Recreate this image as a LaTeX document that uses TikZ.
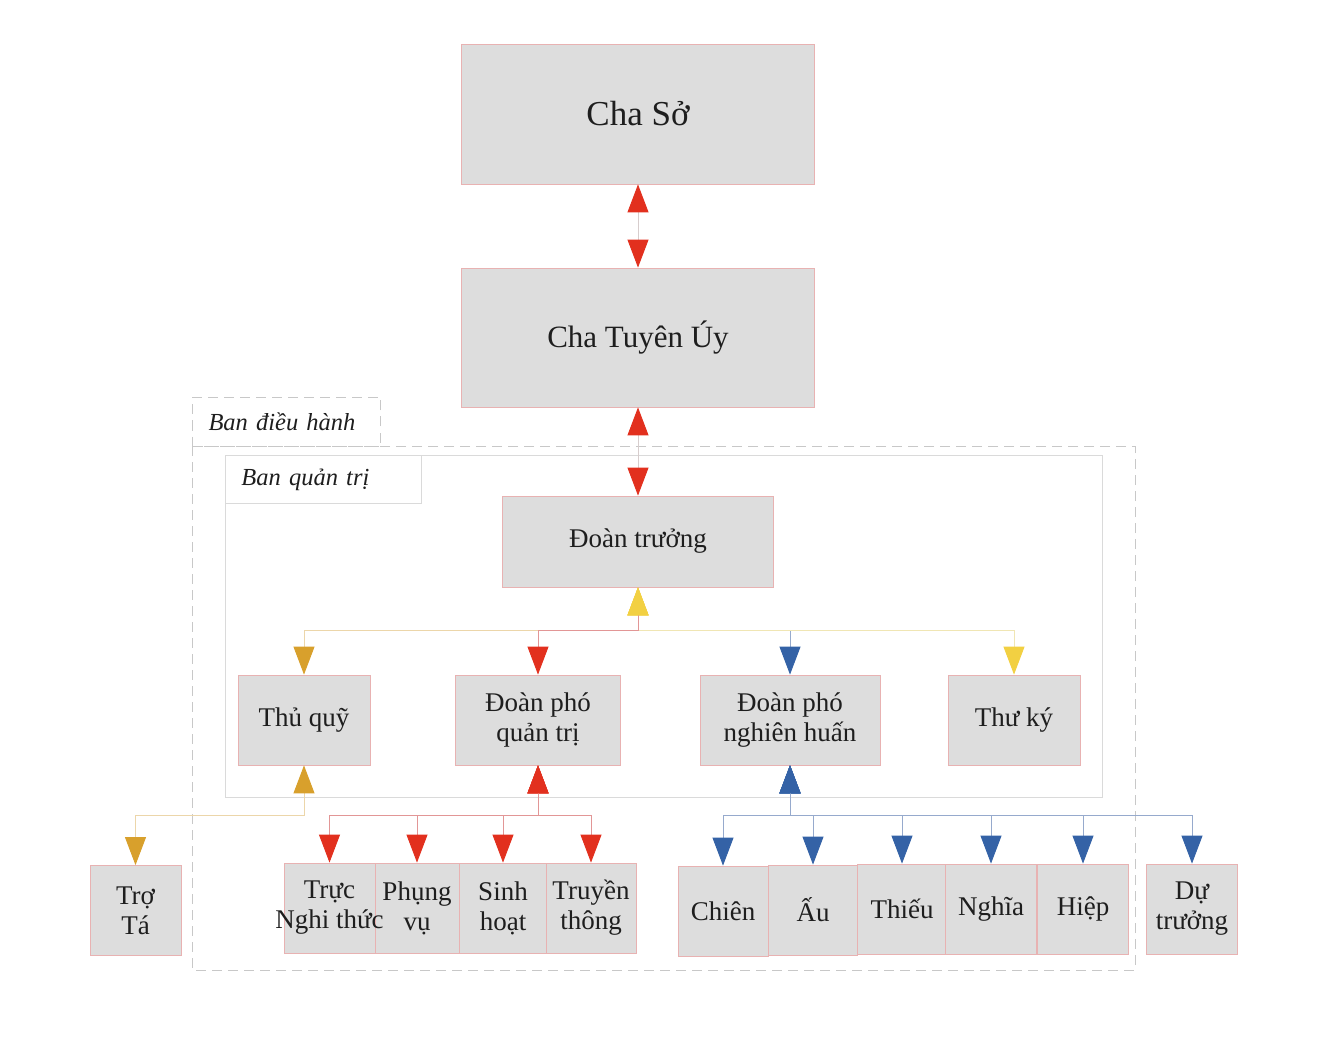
\documentclass[tikz,border=0pt]{standalone}
\usepackage{fontspec}
\setmainfont{Liberation Serif}
\usetikzlibrary{arrows.meta}
\definecolor{boxfill}{RGB}{221,221,221}
\definecolor{boxline}{RGB}{232,178,178}
\definecolor{textc}{RGB}{30,30,30}
\definecolor{tred}{RGB}{226,48,30}
\definecolor{torange}{RGB}{216,160,44}
\definecolor{tyellow}{RGB}{242,208,66}
\definecolor{tblue}{RGB}{52,98,166}
\definecolor{dashgray}{RGB}{200,200,200}
\definecolor{framegray}{RGB}{218,218,218}
\definecolor{palered}{RGB}{226,150,150}
\definecolor{paleorange}{RGB}{236,214,170}
\definecolor{paleyellow}{RGB}{240,230,180}
\definecolor{paleblue}{RGB}{150,170,205}
\definecolor{palegray}{RGB}{215,205,205}
\tikzset{
  tipred/.tip={Triangle[width=21pt,length=28pt,color=tred,fill=tred]},
  tiporange/.tip={Triangle[width=21pt,length=28pt,color=torange,fill=torange]},
  tipyellow/.tip={Triangle[width=21pt,length=28pt,color=tyellow,fill=tyellow]},
  tipblue/.tip={Triangle[width=21pt,length=28pt,color=tblue,fill=tblue]},
  txt/.style={text=textc, align=center, inner sep=0pt, font=\fontsize{27}{30}\selectfont},
  box/.style={txt, draw=boxline, line width=0.8pt, fill=boxfill},
  smallbox/.style={box, minimum width=89pt, minimum height=90pt},
  conn/.style={line width=0.9pt},
  tabnode/.style={inner xsep=16pt, inner ysep=0pt, align=left, text=textc,
    font=\fontsize{24.5}{28}\selectfont\itshape, anchor=north west},
}
\begin{document}
\begin{tikzpicture}[x=1pt,y=-1pt]
\useasboundingbox (0,0) rectangle (1320,1048);
% frames
\draw[dashgray, line width=1pt, dash pattern=on 10pt off 6pt] (192,446) rectangle (1135,970);
\node[tabnode, draw=dashgray, line width=1pt, dash pattern=on 10pt off 6pt,
  minimum height=49pt, text width=156pt] (bdh) at (192,397) {Ban điều hành};
\draw[framegray, line width=0.9pt] (225,455) rectangle (1102,797);
\node[tabnode, draw=framegray, line width=0.9pt, minimum height=48pt, text width=164pt]
  (bqt) at (225,455) {Ban quản trị};
% top boxes
\node[box, minimum width=353pt, minimum height=140pt, font=\fontsize{35}{40}\selectfont]
  (chaso) at (638,114) {Cha Sở};
\node[box, minimum width=353pt, minimum height=139pt, font=\fontsize{31}{36}\selectfont]
  (tuyen) at (638,337.5) {Cha Tuyên Úy};
\node[box, minimum width=271pt, minimum height=91pt] (dt) at (638,541.5) {Đoàn trưởng};
% second level
\node[box, minimum width=132pt, minimum height=90pt] (tq) at (304,720) {Thủ quỹ};
\node[box, minimum width=165pt, minimum height=90pt] (dpqt) at (538,720) {Đoàn phó\\ quản trị};
\node[box, minimum width=180pt, minimum height=90pt] (dpnh) at (790,720) {Đoàn phó\\nghiên huấn};
\node[box, minimum width=132pt, minimum height=90pt] (tk) at (1014,720) {Thư ký};
% third level
\node[smallbox, minimum width=91pt] (trota) at (135.5,910.5) {Trợ\\Tá};
\node[smallbox, minimum width=91pt] (c1) at (329.5,908) {};
\node[smallbox, minimum width=84pt] (c2) at (417,908) {Phụng\\vụ};
\node[smallbox, minimum width=87pt] (c3) at (503,908) {Sinh\\hoạt};
\node[smallbox, minimum width=90pt] (c4) at (591,908) {Truyền\\thông};
\node[txt] (c1t) at (c1.center) {Trực\\Nghi thức};
\node[smallbox, minimum width=90pt] (d1) at (723,911) {Chiên};
\node[smallbox, minimum width=89pt] (d2) at (813,910) {Ấu};
\node[smallbox, minimum width=89pt] (d3) at (902,909) {Thiếu};
\node[smallbox, minimum width=91pt] (d4) at (991,909) {Nghĩa};
\node[smallbox, minimum width=91pt] (d5) at (1083,909) {Hiệp};
\node[smallbox, minimum width=91pt] (d6) at (1192,909) {Dự\\trưởng};
% connectors top
\draw[conn, draw=palegray, {tipred}-{tipred}] (chaso.south) -- (tuyen.north);
\draw[conn, draw=palegray, {tipred}-{tipred}] (tuyen.south) -- (dt.north);
% Doan truong children
\coordinate (j1) at (638,630);
\draw[conn, draw=paleblue, {tipyellow}-{tipblue}] (dt.south) -- (j1) -| (dpnh.north);
\draw[conn, draw=paleyellow, {tipyellow}-{tipyellow}] (dt.south) -- (j1) -| (tk.north);
\draw[conn, draw=paleorange, {tipyellow}-{tiporange}] (dt.south) -- (j1) -| (tq.north);
\draw[conn, draw=palered, {tipyellow}-{tipred}] (dt.south) -- (j1) -| (dpqt.north);
% Tro ta
\coordinate (j2) at (304,815);
\draw[conn, draw=paleorange, {tiporange}-{tiporange}] (tq.south) -- (j2) -| (trota.north);
% quan tri children
\coordinate (j3) at (538,815);
\foreach \c in {c1,c2,c3,c4}
  \draw[conn, draw=palered, {tipred}-{tipred}] (dpqt.south) -- (j3) -| (\c.north);
% nghien huan children
\coordinate (j4) at (790,815);
\foreach \c in {d1,d2,d3,d4,d5,d6}
  \draw[conn, draw=paleblue, {tipblue}-{tipblue}] (dpnh.south) -- (j4) -| (\c.north);
\end{tikzpicture}
\end{document}
